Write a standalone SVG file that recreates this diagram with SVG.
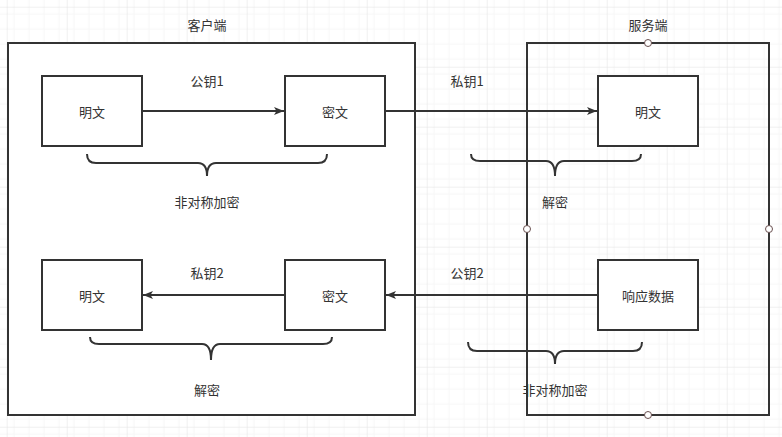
<svg xmlns="http://www.w3.org/2000/svg" width="782" height="437" viewBox="0 0 782 437">
<defs>
<pattern id="minor" width="15" height="15" patternUnits="userSpaceOnUse" x="6.7" y="6.7">
<path d="M15,0 L0,0 L0,15" fill="none" stroke="#eeeeee" stroke-width="1"/>
</pattern>
<pattern id="major" width="60" height="60" patternUnits="userSpaceOnUse" x="6.7" y="6.7">
<rect width="60" height="60" fill="url(#minor)"/>
<path d="M60,0 L0,0 L0,60" fill="none" stroke="#e2e2e2" stroke-width="1"/>
</pattern>
<marker id="arr" viewBox="0 0 10 10" refX="10" refY="5" markerWidth="10" markerHeight="10" markerUnits="userSpaceOnUse" orient="auto">
<path d="M0,1 L10,5 L0,9 L2.5,5 Z" fill="#333"/>
</marker>
</defs>
<style>
.box{fill:#fff;stroke:#333;stroke-width:2}
.cont{fill:none;stroke:#333;stroke-width:2}
.t{font-family:"Noto Sans CJK SC","Liberation Sans",sans-serif;font-size:13px;fill:#333;text-anchor:middle;dominant-baseline:central}
.edge{fill:none;stroke:#333;stroke-width:2}
.brace{fill:none;stroke:#333;stroke-width:2}
.h{fill:#fff;stroke:#6a5050;stroke-width:1}
</style>
<rect width="782" height="437" fill="#fff"/>
<rect width="782" height="437" fill="url(#major)"/>
<g id="client">
<rect class="box" x="8" y="43" width="407" height="372"/>
<text class="t" x="207" y="24">客户端</text>
</g>
<g id="server">
<rect class="cont" x="527" y="43" width="242" height="372"/>
<text class="t" x="648" y="24">服务端</text>
</g>
<g id="edges">
<line class="edge" x1="142" y1="111" x2="284" y2="111" marker-end="url(#arr)"/>
<line class="edge" x1="385" y1="111" x2="597" y2="111" marker-end="url(#arr)"/>
<line class="edge" x1="598" y1="295" x2="386" y2="295" marker-end="url(#arr)"/>
<line class="edge" x1="285" y1="295" x2="143" y2="295" marker-end="url(#arr)"/>
</g>
<g id="c-plain1">
<rect class="box" x="42" y="76" width="100" height="70"/>
<text class="t" x="92" y="111">明文</text>
</g>
<g id="c-cipher1">
<rect class="box" x="285" y="76" width="100" height="70"/>
<text class="t" x="335" y="111">密文</text>
</g>
<g id="s-plain">
<rect class="box" x="598" y="76" width="100" height="70"/>
<text class="t" x="648" y="111">明文</text>
</g>
<g id="c-plain2">
<rect class="box" x="42" y="260" width="100" height="70"/>
<text class="t" x="92" y="295">明文</text>
</g>
<g id="c-cipher2">
<rect class="box" x="285" y="260" width="100" height="70"/>
<text class="t" x="335" y="295">密文</text>
</g>
<g id="s-resp">
<rect class="box" x="598" y="260" width="100" height="70"/>
<text class="t" x="648" y="295">响应数据</text>
</g>
<g id="braces">
<path class="brace" d="M87,154 Q87,163 96,163 L198,163 Q207,163 207,176 Q207,163 216,163 L318,163 Q327,163 327,154"/>
<path class="brace" d="M471,154 Q471,161 480,161 L546,161 Q555,161 555,176 Q555,161 564,161 L632,161 Q641,161 641,154"/>
<path class="brace" d="M90,337 Q90,344 99,344 L202,344 Q211,344 211,360 Q211,344 220,344 L323,344 Q332,344 332,337"/>
<path class="brace" d="M468,342 Q468,351 477,351 L546,351 Q555,351 555,364 Q555,351 564,351 L633,351 Q642,351 642,342"/>
</g>
<g id="labels">
<text class="t" x="207" y="80">公钥1</text>
<text class="t" x="207" y="201">非对称加密</text>
<text class="t" x="467" y="80">私钥1</text>
<text class="t" x="555" y="201">解密</text>
<text class="t" x="207" y="272">私钥2</text>
<text class="t" x="207" y="389">解密</text>
<text class="t" x="467" y="272">公钥2</text>
<text class="t" x="555" y="389">非对称加密</text>
</g>
<g id="handles">
<circle class="h" cx="648" cy="43" r="3.5"/>
<circle class="h" cx="527" cy="229" r="3.5"/>
<circle class="h" cx="769" cy="229" r="3.5"/>
<circle class="h" cx="648" cy="415" r="3.5"/>
</g>
</svg>
